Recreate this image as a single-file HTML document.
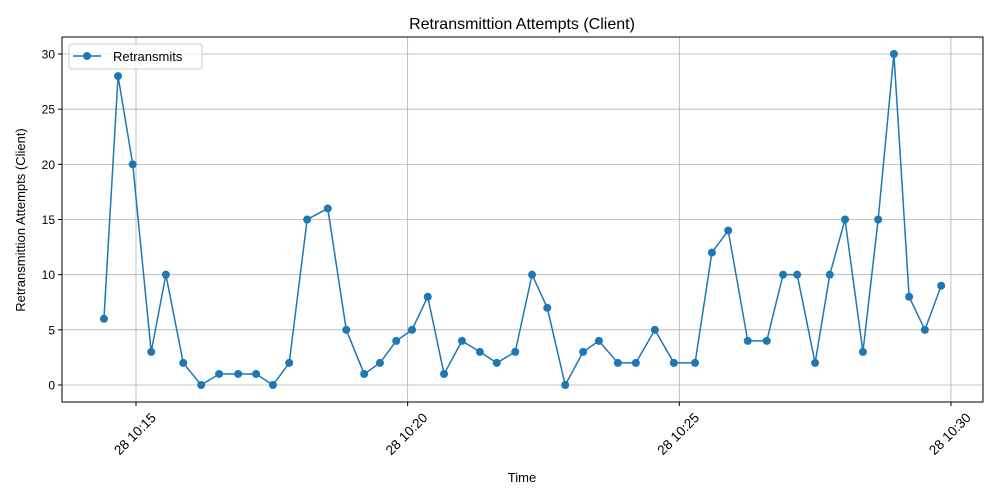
<!DOCTYPE html>
<html><head><meta charset="utf-8"><style>
body{margin:0;background:#fff;}
svg{display:block;font-family:"Liberation Sans","DejaVu Sans",sans-serif;}
</style></head><body>
<svg id="chart" width="1000" height="500">
<rect width="1000" height="500" fill="#fff"/>
<g id="grid"></g>
<g id="series"></g>
<rect x="62" y="37" width="921" height="365" fill="none" stroke="#000" stroke-width="1"/>
<g id="axes"></g>
<text x="522" y="29" font-size="16" text-anchor="middle">Retransmittion Attempts (Client)</text>
<text x="522" y="482" font-size="13" text-anchor="middle">Time</text>
<text transform="translate(25,220) rotate(-90)" font-size="13" text-anchor="middle">Retransmittion Attempts (Client)</text>
<g>
<rect x="69" y="44" width="133" height="25" rx="3" fill="#fff" fill-opacity="0.8" stroke="#ccc"/>
<line x1="73" y1="56" x2="101" y2="56" stroke="#1f77b4" stroke-width="1.5"/>
<circle cx="87" cy="56" r="4" fill="#1f77b4"/>
<text x="113" y="61" font-size="13">Retransmits</text>
</g>
</svg>
<script>
const times=[14.41,14.67,14.94,15.28,15.55,15.87,16.20,16.53,16.88,17.21,17.52,17.82,18.15,18.53,18.87,19.20,19.49,19.79,20.08,20.37,20.67,21.00,21.33,21.64,21.98,22.29,22.57,22.90,23.23,23.52,23.87,24.20,24.55,24.90,25.29,25.60,25.90,26.26,26.61,26.91,27.17,27.50,27.77,28.05,28.38,28.66,28.95,29.23,29.52,29.82];
const values=[6,28,20,3,10,2,0,1,1,1,0,2,15,16,5,1,2,4,5,8,1,4,3,2,3,10,7,0,3,4,2,2,5,2,2,12,14,4,4,10,10,2,10,15,3,15,30,8,5,9];
const xTicks=[15,20,25,30];
const xTickLabels=["28 10:15","28 10:20","28 10:25","28 10:30"];
const yTicks=[0,5,10,15,20,25,30];
const NS="http://www.w3.org/2000/svg";
function X(m){return 136+(m-15)*54.33;}
function Y(v){return 385-v*11.033;}
function mk(tag,attrs,parent){const e=document.createElementNS(NS,tag);for(const k in attrs)e.setAttribute(k,attrs[k]);parent.appendChild(e);return e;}
const grid=document.getElementById('grid'),axes=document.getElementById('axes'),series=document.getElementById('series');
xTicks.forEach((t,i)=>{
  const x=X(t);
  const g=mk('line',{x1:x,y1:37,x2:x,y2:402,stroke:'#b0b0b0','stroke-width':0.8},grid);
  
  
  mk('line',{x1:x,y1:402,x2:x,y2:406,stroke:'#000'},axes);
  const tx=mk('text',{transform:`translate(${x-1},${434}) rotate(-45)`,'font-size':13.5,'text-anchor':'middle',dy:4.5},axes);
  tx.textContent=xTickLabels[i];
  
  
});
yTicks.forEach(t=>{
  const y=Y(t);
  const g=mk('line',{x1:62,y1:y,x2:983,y2:y,stroke:'#b0b0b0','stroke-width':0.8},grid);
  
  
  mk('line',{x1:58,y1:y,x2:62,y2:y,stroke:'#000'},axes);
  const tx=mk('text',{x:55,y:y+4.5,'font-size':12,'text-anchor':'end'},axes);
  tx.textContent=t;
  
  
});
const pts=times.map((t,i)=>X(t)+','+Y(values[i])).join(' ');
const pl=mk('polyline',{points:pts,fill:'none',stroke:'#1f77b4','stroke-width':1.5},series);


times.forEach((t,i)=>{
  const c=mk('circle',{cx:X(t),cy:Y(values[i]),r:4,fill:'#1f77b4'},series);
  
  
});
</script>
</body></html>
